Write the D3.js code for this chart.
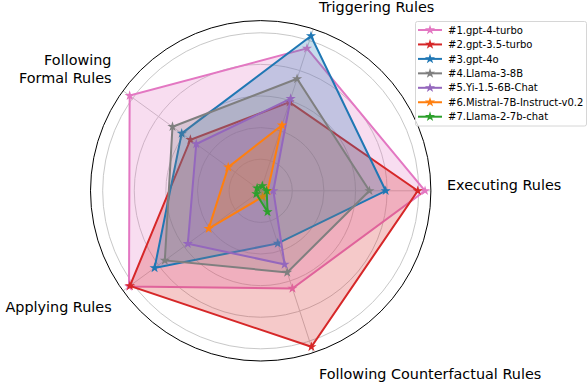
<!DOCTYPE html>
<html>
<head>
<meta charset="utf-8">
<script src="https://cdn.jsdelivr.net/npm/d3@7"></script>
<style>
  body { margin: 0; background: #fff; }
  svg { display: block; font-family: "DejaVu Sans", sans-serif; }
</style>
</head>
<body>
<div id="chart"></div>
<script>
// axes, counter-clockwise from the right
const categories = ["Executing Rules", "Triggering Rules", "Following Formal Rules", "Applying Rules", "Following Counterfactual Rules"];
const models = ["#1.gpt-4-turbo", "#2.gpt-3.5-turbo", "#3.gpt-4o", "#4.Llama-3-8B", "#5.Yi-1.5-6B-Chat", "#6.Mistral-7B-Instruct-v0.2", "#7.Llama-2-7b-chat"];
const colors = ["#e377c2", "#d62728", "#1f77b4", "#7f7f7f", "#9467bd", "#ff7f0e", "#2ca02c"];

const gpt4turbo = [104, 94.8, 102.5, 103, 65];
const gpt35turbo = [99.4, 59, 55, 102.3, 103.8];
const gpt4o = [79.1, 103, 61.8, 83, 35];
const llama3 = [68.8, 74.5, 69, 75, 54.3];
const yi = [8, 61.3, 50.4, 57, 49];
const mistral = [4.4, 43.6, 25.4, 40.7, 4];
const llama2 = [3.8, 3.3, 2.8, 3.4, 14];
const series = [gpt4turbo, gpt35turbo, gpt4o, llama3, yi, mistral, llama2];

const gridTicks = [20, 40, 60, 80, 100];

const width = 588, height = 382;
const cx = 260.7, cy = 190.8;

const svg = d3.select("#chart").append("svg")
  .attr("width", width)
  .attr("height", height);

const r = d3.scaleLinear().domain([0, 107.7]).range([0, 170.2]);
const angle = d3.scaleLinear().domain([0, categories.length]).range([0, 2 * Math.PI]);

const px = (i, v) => cx + r(v) * Math.cos(angle(i));
const py = (i, v) => cy - r(v) * Math.sin(angle(i));

const g = svg.append("g");

// grid circles
g.selectAll("circle.grid")
  .data(gridTicks)
  .join("circle")
  .attr("class", "grid")
  .attr("cx", cx).attr("cy", cy)
  .attr("r", d => r(d))
  .attr("fill", "none")
  .attr("stroke", "#c8c8c8")
  .attr("stroke-width", 1);

// spokes
g.selectAll("line.spoke")
  .data(categories)
  .join("line")
  .attr("x1", cx).attr("y1", cy)
  .attr("x2", (d, i) => px(i, r.domain()[1]))
  .attr("y2", (d, i) => py(i, r.domain()[1]))
  .attr("stroke", "#c8c8c8")
  .attr("stroke-width", 1);

// outer circle
g.append("circle")
  .attr("cx", cx).attr("cy", cy)
  .attr("r", r(r.domain()[1]))
  .attr("fill", "none")
  .attr("stroke", "#000")
  .attr("stroke-width", 1);

const line = d3.line()
  .x(d => d.x).y(d => d.y)
  .curve(d3.curveLinearClosed);

const star = d3.symbol().type(d3.symbolStar).size(32);

series.forEach((vals, k) => {
  const pts = vals.map((v, i) => ({ x: px(i, v), y: py(i, v) }));
  g.append("path")
    .attr("d", line(pts))
    .attr("fill", colors[k])
    .attr("fill-opacity", 0.25)
    .attr("stroke", "none");
  g.append("path")
    .attr("d", line(pts))
    .attr("fill", "none")
    .attr("stroke", colors[k])
    .attr("stroke-width", 2)
    .attr("stroke-linejoin", "miter");
  g.selectAll(null)
    .data(pts)
    .join("path")
    .attr("transform", d => `translate(${d.x},${d.y})`)
    .attr("d", star)
    .attr("fill", colors[k]);
});

// axis labels (placed roughly like matplotlib does)
const labelPos = [
  { x: 447, y: [189.5], anchor: "start", lines: ["Executing Rules"] },
  { x: 319, y: [12.3], anchor: "start", lines: ["Triggering Rules"] },
  { x: 111.5, y: [64.5, 82.8], anchor: "end", lines: ["Following", "Formal Rules"] },
  { x: 111.7, y: [311.5], anchor: "end", lines: ["Applying Rules"] },
  { x: 319, y: [378.8], anchor: "start", lines: ["Following Counterfactual Rules"] }
];
labelPos.forEach(l => {
  l.lines.forEach((t, j) => {
    svg.append("text")
      .attr("x", l.x).attr("y", l.y[j])
      .attr("text-anchor", l.anchor)
      .attr("font-size", 14.4)
      .attr("fill", "#000")
      .text(t);
  });
});

// legend
const leg = svg.append("g");
leg.append("rect")
  .attr("x", 415.5).attr("y", 21.5)
  .attr("width", 171).attr("height", 104.5)
  .attr("rx", 2)
  .attr("fill", "#fff")
  .attr("fill-opacity", 0.8)
  .attr("stroke", "#d6d6d6");

const rowY = d3.scaleLinear().domain([0, 1]).range([30, 44.45]);
models.forEach((m, k) => {
  const y = rowY(k);
  leg.append("line")
    .attr("x1", 418).attr("x2", 442)
    .attr("y1", y).attr("y2", y)
    .attr("stroke", colors[k])
    .attr("stroke-width", 2);
  leg.append("path")
    .attr("transform", `translate(430,${y})`)
    .attr("d", star)
    .attr("fill", colors[k]);
  leg.append("text")
    .attr("x", 448).attr("y", y + 3.6)
    .attr("font-size", 10)
    .attr("fill", "#000")
    .text(m);
});
</script>
</body>
</html>
